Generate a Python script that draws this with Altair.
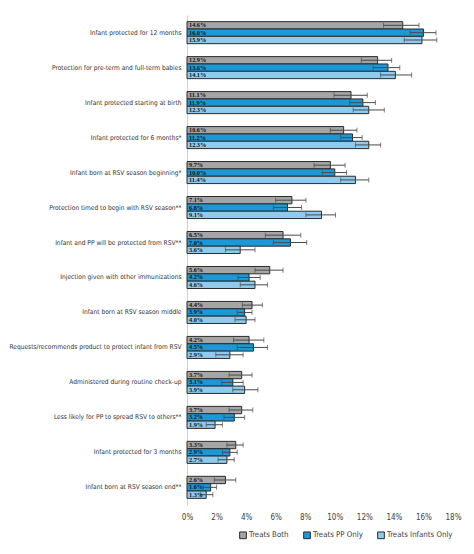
import altair as alt
import pandas as pd

categories = [
    "Infant protected for 12 months",
    "Protection for pre-term and full-term babies",
    "Infant protected starting at birth",
    "Infant protected for 6 months*",
    "Infant born at RSV season beginning*",
    "Protection timed to begin with RSV season**",
    "Infant and PP will be protected from RSV**",
    "Injection given with other immunizations",
    "Infant born at RSV season middle",
    "Requests/recommends product to protect infant from RSV",
    "Administered during routine check-up",
    "Less likely for PP to spread RSV to others**",
    "Infant protected for 3 months",
    "Infant born at RSV season end**",
]
series = ["Treats Both", "Treats PP Only", "Treats Infants Only"]
colors = ["#A5A5A5", "#1B98D6", "#8FCBEE"]
x_ticks = [0, 2, 4, 6, 8, 10, 12, 14, 16, 18]

both = [14.6, 12.9, 11.1, 10.6, 9.7, 7.1, 6.5, 5.6, 4.4, 4.2, 3.7, 3.7, 3.3, 2.6]
pp_only = [16.0, 13.6, 11.9, 11.2, 10.0, 6.8, 7.0, 4.2, 3.9, 4.5, 3.1, 3.2, 2.9, 1.6]
infants_only = [15.9, 14.1, 12.3, 12.3, 11.4, 9.1, 3.6, 4.6, 4.0, 2.9, 3.9, 1.9, 2.7, 1.3]

both_lo = [13.3, 11.8, 9.95, 9.7, 8.6, 6.0, 5.3, 4.6, 3.75, 3.15, 2.85, 2.85, 2.7, 1.85]
both_hi = [15.7, 13.85, 12.2, 11.5, 10.7, 8.05, 7.7, 6.5, 5.1, 5.2, 4.4, 4.45, 3.8, 3.3]
pp_lo = [15.1, 12.6, 11.0, 10.4, 9.15, 5.85, 5.85, 3.45, 3.4, 3.4, 2.35, 2.5, 2.4, 1.1]
pp_hi = [16.85, 14.4, 12.75, 11.85, 10.8, 7.75, 8.1, 4.95, 4.4, 5.45, 3.8, 3.9, 3.4, 2.0]
inf_lo = [14.7, 13.1, 11.25, 11.4, 10.4, 8.05, 2.6, 3.6, 3.25, 1.95, 3.1, 1.3, 2.1, 0.9]
inf_hi = [16.9, 15.2, 13.35, 13.1, 12.3, 10.05, 4.6, 5.45, 4.6, 3.8, 4.8, 2.4, 3.2, 1.75]

rows = []
for s, vals, lo, hi in [
    (series[0], both, both_lo, both_hi),
    (series[1], pp_only, pp_lo, pp_hi),
    (series[2], infants_only, inf_lo, inf_hi),
]:
    for c, v, l, h in zip(categories, vals, lo, hi):
        rows.append({"Item": c, "Group": s, "Value": v, "Low": l, "High": h,
                     "Label": f"{v:.1f}%"})
df = pd.DataFrame(rows)

font = "DejaVu Sans Condensed, Liberation Sans, sans-serif"

x_scale = alt.Scale(domain=[0, 18], nice=False)
x_axis = alt.Axis(values=x_ticks, labelExpr="datum.value + '%'", title=None,
                  domain=False, ticks=False, grid=False, labelOverlap=False,
                  labelFlush=False, labelFont=font, labelFontSize=8,
                  labelColor="#404040", labelPadding=8)

y_enc = alt.Y("Item:N", sort=categories, title=None,
              scale=alt.Scale(paddingInner=0.37, paddingOuter=0.19),
              axis=alt.Axis(domainColor="#d0d0d0", ticks=False, labelFontSize=6.6,
                            labelColor="#333333", labelPadding=6, labelLimit=300,
                            labelFont=font))
yoff_enc = alt.YOffset("Group:N", sort=series,
                       scale=alt.Scale(paddingInner=0, paddingOuter=0))

base = alt.Chart(df).encode(y=y_enc, yOffset=yoff_enc)

bars = base.mark_bar(stroke="#2b2b2b", strokeWidth=1).encode(
    x=alt.X("Value:Q", scale=x_scale, axis=x_axis),
    color=alt.Color("Group:N", sort=series, title=None,
                    scale=alt.Scale(domain=series, range=colors),
                    legend=alt.Legend(orient="none", direction="horizontal",
                                      legendX=52, legendY=516,
                                      symbolType="square", symbolSize=45,
                                      symbolStrokeColor="#2b2b2b", symbolStrokeWidth=1,
                                      labelFont=font, labelFontSize=7.8,
                                      labelColor="#404040", labelOffset=2,
                                      columnPadding=12)),
)

err = base.mark_rule(color="#4a4a4a", strokeWidth=1).encode(
    x=alt.X("Low:Q", scale=x_scale, axis=x_axis), x2="High:Q"
)
cap_lo = base.mark_tick(color="#4a4a4a", orient="vertical", size=5, thickness=1).encode(
    x=alt.X("Low:Q", scale=x_scale, axis=x_axis)
)
cap_hi = base.mark_tick(color="#4a4a4a", orient="vertical", size=5, thickness=1).encode(
    x=alt.X("High:Q", scale=x_scale, axis=x_axis)
)

labels = base.mark_text(align="left", baseline="middle", dx=2, fontSize=6.3,
                        fontWeight="bold", font="Liberation Serif",
                        color="#111111").encode(
    x=alt.datum(0, scale=x_scale, axis=x_axis), text="Label:N"
)

chart = (
    alt.layer(bars, err, cap_lo, cap_hi, labels)
    .properties(width=266, height=490, padding={"left": 0, "top": 7, "right": 4, "bottom": 0})
    .configure_view(stroke=None)
    .configure_axisX(labelOverlap=False)
)

chart.save("out.html", embed_options={"renderer": "svg", "actions": False})
